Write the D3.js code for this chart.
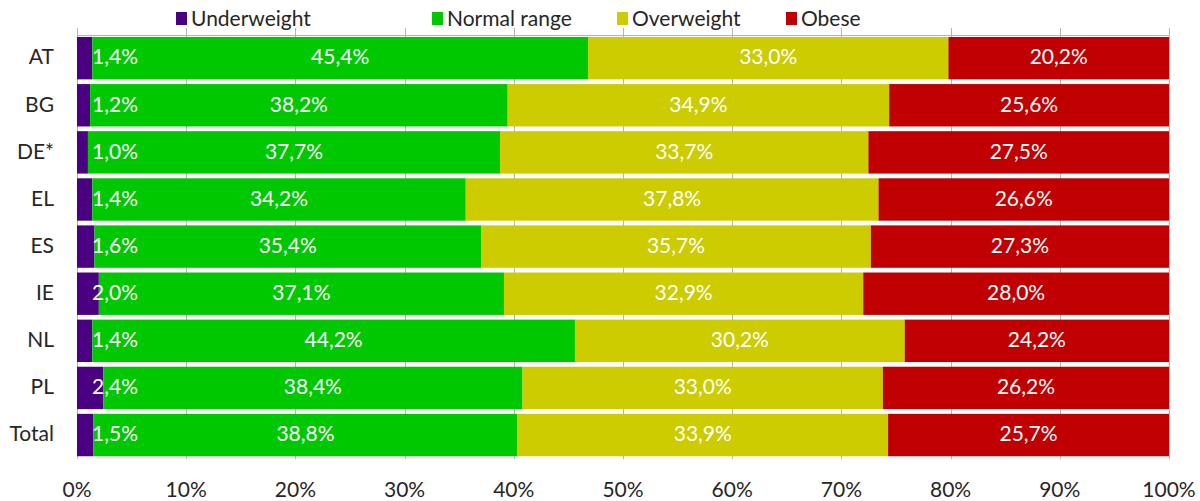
<!doctype html>
<html lang="en">
<head>
<meta charset="utf-8">
<title>BMI categories</title>
<style>
    body { margin: 0; background: #fff; font-family: Lato, "Open Sans", sans-serif; }
    .cat-label { font-size: 21px; fill: #262626; text-anchor: end; dominant-baseline: middle; }
    .tick-label { font-size: 21px; fill: #262626; text-anchor: middle; }
    .seg-label { font-size: 21px; fill: #fff; dominant-baseline: middle; }
    .legend-text { font-size: 21px; fill: #262626; }
    .grid { stroke: #b4b4b4; stroke-width: 1; }
</style>
</head>
<body>
<script src="https://d3js.org/d3.v7.min.js"></script>
<script>
    const countries = ['AT', 'BG', 'DE*', 'EL', 'ES', 'IE', 'NL', 'PL', 'Total'];
    const seriesNames = ['Underweight', 'Normal range', 'Overweight', 'Obese'];
    const seriesColors = ['#4b0082', '#00c800', '#cccc00', '#c00000'];

    const underweight = [1.4, 1.2, 1.0, 1.4, 1.6, 2.0, 1.4, 2.4, 1.5];
    const normalRange = [45.4, 38.2, 37.7, 34.2, 35.4, 37.1, 44.2, 38.4, 38.8];
    const overweight  = [33.0, 34.9, 33.7, 37.8, 35.7, 32.9, 30.2, 33.0, 33.9];
    const obese       = [20.2, 25.6, 27.5, 26.6, 27.3, 28.0, 24.2, 26.2, 25.7];

    const ticks = [0, 10, 20, 30, 40, 50, 60, 70, 80, 90, 100];

    const W = 1200, H = 501;
    const svg = d3.select('body').append('svg').attr('width', W).attr('height', H);

    const x = d3.scaleLinear().domain([0, 100]).range([77, 1169]);
    const y = d3.scaleBand().domain(countries).range([34.6, 458.6]).paddingInner(0.1).paddingOuter(0.05);

    // build rows, normalised to 100% like a 100% stacked bar
    const rows = countries.map((c, i) => {
        const vals = [underweight[i], normalRange[i], overweight[i], obese[i]];
        const sum = d3.sum(vals);
        let acc = 0;
        return vals.map((v, k) => {
            const seg = { country: c, k: k, value: v, x0: acc / sum * 100, x1: (acc + v) / sum * 100 };
            acc += v;
            return seg;
        });
    });

    // grid lines + top axis line
    svg.append('g').selectAll('line').data(ticks).enter().append('line')
        .attr('class', 'grid')
        .attr('x1', d => Math.round(x(d)) + 0.5).attr('x2', d => Math.round(x(d)) + 0.5)
        .attr('y1', 28).attr('y2', 459);
    svg.append('line').attr('class', 'grid')
        .attr('x1', x(0)).attr('x2', x(100) + 1)
        .attr('y1', 35.5).attr('y2', 35.5);

    // bars
    const rowG = svg.append('g').selectAll('g').data(rows).enter().append('g');
    rowG.selectAll('rect').data(d => d).enter().append('rect')
        .attr('x', d => x(d.x0))
        .attr('width', d => x(d.x1) - x(d.x0))
        .attr('y', d => y(d.country))
        .attr('height', y.bandwidth())
        .attr('fill', d => seriesColors[d.k]);

    rowG.selectAll('text').data(d => d).enter().append('text')
        .attr('class', 'seg-label')
        .attr('x', d => d.k === 0 ? x(0) + 15 : (x(d.x0) + x(d.x1)) / 2)
        .attr('y', d => y(d.country) + y.bandwidth() / 2 + 1)
        .attr('text-anchor', d => d.k === 0 ? 'start' : 'middle')
        .attr('fill', d => d.k === 2 ? '#fffff0' : '#fff')
        .text(d => d.value.toFixed(1).replace('.', ',') + '%');

    // category labels
    svg.append('g').selectAll('text').data(countries).enter().append('text')
        .attr('class', 'cat-label')
        .attr('x', 54)
        .attr('y', d => y(d) + y.bandwidth() / 2 + 1)
        .text(d => d);

    // x tick labels
    svg.append('g').selectAll('text').data(ticks).enter().append('text')
        .attr('class', 'tick-label')
        .attr('x', d => x(d))
        .attr('y', 497)
        .text(d => d + '%');

    // legend
    const legendX = [176, 432, 617, 786];
    const lg = svg.append('g').selectAll('g').data(seriesNames).enter().append('g')
        .attr('transform', (d, i) => `translate(${legendX[i]},0)`);
    lg.append('rect').attr('x', 0).attr('y', 12).attr('width', 11).attr('height', 13)
        .attr('fill', (d, i) => seriesColors[i]);
    lg.append('text').attr('class', 'legend-text').attr('x', 15).attr('y', 26).text(d => d);
</script>
</body>
</html>
